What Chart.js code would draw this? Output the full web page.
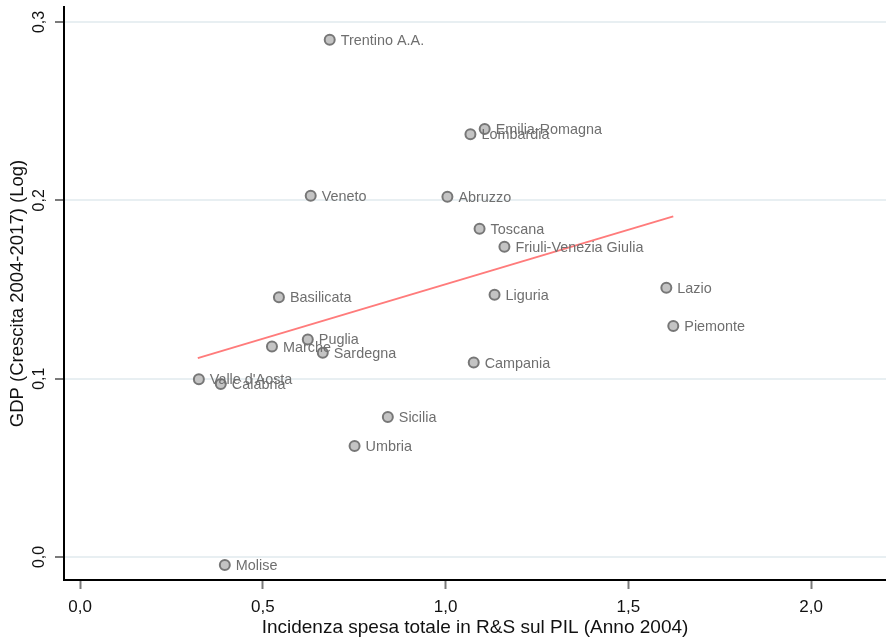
<!DOCTYPE html>
<html>
<head>
<meta charset="utf-8">
<script src="https://cdn.jsdelivr.net/npm/chart.js@4/dist/chart.umd.min.js"></script>
<style>
  body { margin: 0; background: #fff; overflow: hidden; }
  #wrap { width: 886px; height: 642px; }
  canvas { display: block; }
</style>
</head>
<body>
<div id="wrap"><canvas id="myChart" width="886" height="642"></canvas></div>
<script>
// regioni, spesa R&S / PIL (2004), crescita GDP 2004-2017 (log)
const regions = ['Trentino A.A.', 'Emilia-Romagna', 'Lombardia', 'Veneto', 'Abruzzo', 'Toscana',
    'Friuli-Venezia Giulia', 'Basilicata', 'Liguria', 'Lazio', 'Piemonte', 'Puglia', 'Marche',
    'Sardegna', 'Campania', "Valle d'Aosta", 'Calabria', 'Sicilia', 'Umbria', 'Molise'];
const spesaRS = [0.683, 1.107, 1.068, 0.631, 1.005, 1.093, 1.161, 0.544, 1.134, 1.604, 1.623,
    0.623, 0.525, 0.664, 1.077, 0.325, 0.385, 0.842, 0.751, 0.396];
const gdpGrowth = [0.290, 0.240, 0.237, 0.2025, 0.202, 0.184, 0.174, 0.1457, 0.147, 0.151, 0.1295,
    0.122, 0.118, 0.1145, 0.109, 0.0997, 0.097, 0.0785, 0.0622, -0.0045];
// retta di regressione (estremi)
const fitX = [0.322, 1.623];
const fitY = [0.1115, 0.191];
const xTicks = [0, 0.5, 1.0, 1.5, 2.0];
const yTicks = [0, 0.1, 0.2, 0.3];

const fontFamily = '"Liberation Sans", Arial, sans-serif';
const fmt = v => v.toFixed(1).replace('.', ',');

function noPadding(s) {
    s.paddingTop = 0;
    s.paddingBottom = 0;
    s.paddingLeft = 0;
    s.paddingRight = 0;
}

const pointLabels = {
    id: 'pointLabels',
    afterDatasetsDraw(chart) {
        const ctx = chart.ctx;
        const meta = chart.getDatasetMeta(1);
        ctx.save();
        ctx.font = '14.4px ' + fontFamily;
        ctx.fillStyle = '#6f6f6f';
        ctx.textBaseline = 'middle';
        ctx.textAlign = 'left';
        meta.data.forEach((el, i) => {
            ctx.fillText(regions[i], el.x + 11, el.y + 1);
        });
        ctx.restore();
    }
};

const ctx = document.getElementById('myChart').getContext('2d');
const myChart = new Chart(ctx, {
    type: 'scatter',
    data: {
        datasets: [
            {
                type: 'line',
                data: fitX.map((x, i) => ({x: x, y: fitY[i]})),
                borderColor: '#ff7b7b',
                borderWidth: 2,
                pointRadius: 0,
                fill: false
            },
            {
                data: spesaRS.map((x, i) => ({x: x, y: gdpGrowth[i]})),
                pointRadius: 5,
                pointBackgroundColor: '#c4c4c4',
                pointBorderColor: '#777',
                pointBorderWidth: 2
            }
        ]
    },
    options: {
        responsive: false,
        animation: false,
        devicePixelRatio: 1,
        clip: false,
        layout: { autoPadding: false, padding: { top: 7, right: 0, left: 0, bottom: 0 } },
        plugins: {
            legend: { display: false },
            tooltip: { enabled: false }
        },
        scales: {
            x: {
                type: 'linear',
                min: -0.044,
                max: 2.205,
                afterBuildTicks: s => { s.ticks = xTicks.map(v => ({value: v})); },
                afterFit: s => { s.height = 62; noPadding(s); },
                border: { display: true, color: '#000', width: 2 },
                grid: { drawOnChartArea: false, drawTicks: true, tickLength: 9, tickColor: '#7a7a7a', tickWidth: 2 },
                ticks: {
                    padding: 8,
                    color: '#111',
                    font: { family: fontFamily, size: 17 },
                    maxRotation: 0,
                    callback: v => fmt(v)
                },
                title: {
                    display: true,
                    text: 'Incidenza spesa totale in R&S sul PIL (Anno 2004)',
                    color: '#111',
                    font: { family: fontFamily, size: 19 },
                    padding: { top: 0, bottom: 3 }
                }
            },
            y: {
                type: 'linear',
                min: -0.0129,
                max: 0.3084,
                afterBuildTicks: s => { s.ticks = yTicks.map(v => ({value: v})); },
                afterFit: s => { s.width = 64; noPadding(s); },
                border: { display: true, color: '#000', width: 2 },
                grid: { color: '#e8eff2', lineWidth: 2, drawTicks: true, tickLength: 9, tickColor: '#7a7a7a', tickWidth: 2 },
                ticks: {
                    padding: 4,
                    minRotation: 90,
                    maxRotation: 90,
                    crossAlign: 'center',
                    color: '#111',
                    font: { family: fontFamily, size: 16 },
                    callback: v => fmt(v)
                },
                title: {
                    display: true,
                    text: 'GDP (Crescita 2004-2017) (Log)',
                    color: '#111',
                    font: { family: fontFamily, size: 18.5 },
                    padding: { top: 7, bottom: 0 }
                }
            }
        }
    },
    plugins: [pointLabels]
});
</script>
</body>
</html>
